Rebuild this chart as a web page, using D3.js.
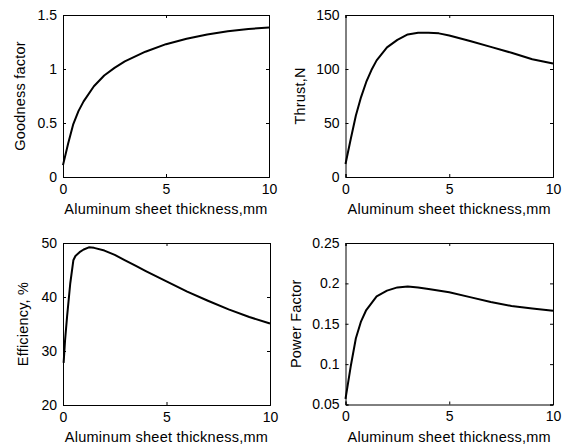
<!DOCTYPE html>
<html><head><meta charset="utf-8">
<script src="https://cdn.jsdelivr.net/npm/d3@7/dist/d3.min.js"></script>
<style>
body{margin:0;background:#fff;}
text{font-family:"Liberation Sans",Arial,Helvetica,sans-serif;fill:#000;}
</style></head>
<body><svg id="c" width="569" height="446"></svg>
<script>
// ---- data ----
const xLabel = "Aluminum sheet thickness,mm";
const xTicks = [0, 5, 10];

const goodnessX = [0, 0.25, 0.5, 0.75, 1, 1.5, 2, 2.5, 3, 4, 5, 6, 7, 8, 9, 10];
const goodnessY = [0.11, 0.31, 0.49, 0.61, 0.70, 0.84, 0.94, 1.01, 1.07, 1.16, 1.23, 1.28, 1.32, 1.35, 1.37, 1.385];
const goodnessTicks = [0, 0.5, 1, 1.5];

const thrustX = [0, 0.25, 0.5, 0.75, 1, 1.25, 1.5, 2, 2.5, 3, 3.5, 4, 4.5, 5, 6, 7, 8, 9, 10];
const thrustY = [12, 35, 57, 74, 88, 99, 108, 120, 127, 132, 133.5, 133.5, 133, 131, 126, 120.5, 115, 109, 105];
const thrustTicks = [0, 50, 100, 150];

const effX = [0.03, 0.1, 0.2, 0.35, 0.5, 0.6, 0.8, 1, 1.25, 1.5, 2, 2.5, 3, 3.5, 4, 5, 6, 7, 8, 9, 10];
const effY = [27.8, 32, 36.5, 42.5, 46.8, 47.6, 48.3, 48.8, 49.2, 49.1, 48.6, 47.8, 46.8, 45.8, 44.8, 42.9, 41.0, 39.3, 37.7, 36.3, 35.1];
const effTicks = [20, 30, 40, 50];

const pfX = [0, 0.25, 0.5, 0.75, 1, 1.5, 2, 2.5, 3, 3.5, 4, 5, 6, 7, 8, 9, 10];
const pfY = [0.057, 0.097, 0.132, 0.153, 0.167, 0.184, 0.191, 0.195, 0.196, 0.195, 0.193, 0.189, 0.183, 0.177, 0.172, 0.169, 0.166];
const pfTicks = [0.05, 0.1, 0.15, 0.2, 0.25];

// ---- layout ----
const panels = [
  {x: goodnessX, y: goodnessY, ticks: goodnessTicks, label: "Goodness factor", box: [63, 15, 269, 177], labX: 25},
  {x: thrustX, y: thrustY, ticks: thrustTicks, label: "Thrust,N", box: [345.5, 15, 553, 177], labX: 305},
  {x: effX, y: effY, ticks: effTicks, label: "Efficiency, %", box: [63, 243, 270, 405], labX: 28},
  {x: pfX, y: pfY, ticks: pfTicks, label: "Power Factor", box: [345.5, 243, 553, 404.5], labX: 301}
];

const svg = d3.select("#c");
const fs = 14;
const tl = 3;

panels.forEach(p => {
  const [x0, y0, x1, y1] = p.box;
  const xs = d3.scaleLinear().domain([0, 10]).range([x0, x1]);
  const ys = d3.scaleLinear().domain([p.ticks[0], p.ticks[p.ticks.length - 1]]).range([y1, y0]);
  const g = svg.append("g");

  // curve
  const data = p.x.map((v, i) => [v, p.y[i]]);
  g.append("path").datum(data)
    .attr("fill", "none").attr("stroke", "#000").attr("stroke-width", 2)
    .attr("stroke-linejoin", "round")
    .attr("d", d3.line().x(d => xs(d[0])).y(d => ys(d[1])));

  // axes (ticks inward on all sides)
  const bottom = d3.axisBottom(xs).tickValues(xTicks).tickSize(-tl).tickPadding(7).tickFormat(d3.format("d"));
  const top = d3.axisTop(xs).tickValues(xTicks).tickSize(-tl).tickFormat("");
  const left = d3.axisLeft(ys).tickValues(p.ticks).tickSize(-tl).tickPadding(6).tickFormat(d => String(+d.toFixed(3)));
  const right = d3.axisRight(ys).tickValues(p.ticks).tickSize(-tl).tickFormat("");

  [[bottom, `translate(0,${y1})`], [top, `translate(0,${y0})`], [left, `translate(${x0},0)`], [right, `translate(${x1},0)`]]
    .forEach(([ax, tr]) => {
      const a = g.append("g").attr("transform", tr).call(ax);
      a.select(".domain").attr("stroke", "#000").attr("stroke-width", 1);
      a.selectAll(".tick line").attr("stroke", "#000");
      a.selectAll("text").style("font-size", fs + "px").attr("fill", "#000")
        .style("font-family", '"Liberation Sans",Arial,sans-serif');
    });

  // labels
  g.append("text").attr("x", (x0 + x1) / 2).attr("y", y1 + 37)
    .attr("text-anchor", "middle").style("font-size", "14.5px").style("letter-spacing", "0.25px").text(xLabel);
  g.append("text").attr("transform", `translate(${p.labX},${(y0 + y1) / 2}) rotate(-90)`)
    .attr("text-anchor", "middle").style("font-size", "14.5px").style("letter-spacing", "0.2px").text(p.label);
});
</script></body></html>
